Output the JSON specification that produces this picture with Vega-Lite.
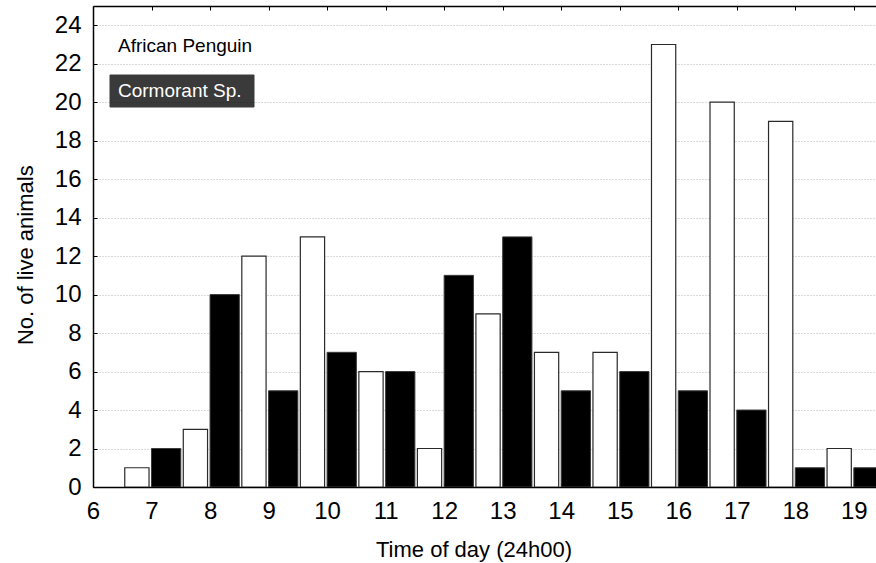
{
  "$schema": "https://vega.github.io/schema/vega-lite/v6.json",
  "autosize": "none",
  "width": 783,
  "height": 481,
  "padding": {"left": 93, "top": 6, "right": 0, "bottom": 76},
  "background": "white",
  "config": {
    "font": "Liberation Sans",
    "view": {"stroke": null},
    "axis": {
      "domainColor": "black",
      "domainWidth": 1.5,
      "tickColor": "black",
      "tickWidth": 1,
      "labelColor": "black",
      "titleColor": "black",
      "labelFont": "Liberation Sans",
      "titleFont": "Liberation Sans",
      "labelFontSize": 24,
      "titleFontSize": 22,
      "titleFontWeight": "normal"
    }
  },
  "data": {
    "values": [
      {"species": "African Penguin", "start": 6.5, "end": 7, "count": 1},
      {"species": "African Penguin", "start": 7.5, "end": 8, "count": 3},
      {"species": "African Penguin", "start": 8.5, "end": 9, "count": 12},
      {"species": "African Penguin", "start": 9.5, "end": 10, "count": 13},
      {"species": "African Penguin", "start": 10.5, "end": 11, "count": 6},
      {"species": "African Penguin", "start": 11.5, "end": 12, "count": 2},
      {"species": "African Penguin", "start": 12.5, "end": 13, "count": 9},
      {"species": "African Penguin", "start": 13.5, "end": 14, "count": 7},
      {"species": "African Penguin", "start": 14.5, "end": 15, "count": 7},
      {"species": "African Penguin", "start": 15.5, "end": 16, "count": 23},
      {"species": "African Penguin", "start": 16.5, "end": 17, "count": 20},
      {"species": "African Penguin", "start": 17.5, "end": 18, "count": 19},
      {"species": "African Penguin", "start": 18.5, "end": 19, "count": 2},
      {"species": "Cormorant Sp.", "start": 7, "end": 7.5, "count": 2},
      {"species": "Cormorant Sp.", "start": 8, "end": 8.5, "count": 10},
      {"species": "Cormorant Sp.", "start": 9, "end": 9.5, "count": 5},
      {"species": "Cormorant Sp.", "start": 10, "end": 10.5, "count": 7},
      {"species": "Cormorant Sp.", "start": 11, "end": 11.5, "count": 6},
      {"species": "Cormorant Sp.", "start": 12, "end": 12.5, "count": 11},
      {"species": "Cormorant Sp.", "start": 13, "end": 13.5, "count": 13},
      {"species": "Cormorant Sp.", "start": 14, "end": 14.5, "count": 5},
      {"species": "Cormorant Sp.", "start": 15, "end": 15.5, "count": 6},
      {"species": "Cormorant Sp.", "start": 16, "end": 16.5, "count": 5},
      {"species": "Cormorant Sp.", "start": 17, "end": 17.5, "count": 4},
      {"species": "Cormorant Sp.", "start": 18, "end": 18.5, "count": 1},
      {"species": "Cormorant Sp.", "start": 19, "end": 19.5, "count": 1}
    ]
  },
  "encoding": {
    "y": {
      "field": "count",
      "type": "quantitative",
      "scale": {"domain": [0, 25], "nice": false, "zero": true},
      "axis": {
        "values": [0, 2, 4, 6, 8, 10, 12, 14, 16, 18, 20, 22, 24],
        "title": "No. of live animals",
        "titleX": -60.3,
        "titleY": 248.7,
        "titleAngle": -90,
        "titleAlign": "center",
        "titleBaseline": "alphabetic",
        "tickSize": -4,
        "labelPadding": 16,
        "grid": true,
        "gridColor": "#b4b4b4",
        "gridDash": [1, 2],
        "gridWidth": 1
      }
    },
    "y2": {"datum": 0},
    "fill": {
      "field": "species",
      "type": "nominal",
      "scale": {"domain": ["African Penguin", "Cormorant Sp."], "range": ["white", "black"]},
      "legend": {
        "orient": "none",
        "legendX": 72.5,
        "legendY": 23.5,
        "title": null,
        "padding": 0,
        "symbolType": "M-4.5,-1H4.5V1H-4.5Z",
        "symbolSize": 1024,
        "symbolStrokeWidth": 1,
        "symbolOpacity": 0.77,
        "labelOffset": -80.5,
        "labelFont": "Liberation Sans",
        "labelFontSize": 19,
        "labelColor": "black",
        "labelLimit": 300,
        "rowPadding": 8,
        "encoding": {
          "symbols": {
            "fill": {"condition": {"test": "datum.value === 'Cormorant Sp.'", "value": "black"}, "value": "white"},
            "stroke": {"condition": {"test": "datum.value === 'Cormorant Sp.'", "value": "black"}, "value": "white"}
          },
          "labels": {
            "fill": {"condition": {"test": "datum.value === 'Cormorant Sp.'", "value": "white"}, "value": "black"}
          }
        }
      }
    }
  },
  "layer": [
    {
      "transform": [{"filter": "datum.species === 'African Penguin'"}],
      "mark": {"type": "bar", "clip": true, "xOffset": 2.5, "x2Offset": -2.5, "stroke": "#2a2a2a", "strokeWidth": 1.2},
      "encoding": {
        "x": {
          "field": "start",
          "type": "quantitative",
          "scale": {"domain": [6, 19.379], "nice": false, "zero": false},
          "axis": {
            "orient": "bottom",
            "values": [6, 7, 8, 9, 10, 11, 12, 13, 14, 15, 16, 17, 18, 19],
            "grid": false,
            "tickSize": -4,
            "labelBaseline": "alphabetic",
            "labelPadding": 35,
            "labelFlush": false,
            "title": "Time of day (24h00)",
            "titleX": 380.5,
            "titleY": 69.5,
            "titleAnchor": null,
            "titleAlign": "center",
            "titleBaseline": "alphabetic"
          }
        },
        "x2": {"field": "end"}
      }
    },
    {
      "transform": [{"filter": "datum.species === 'Cormorant Sp.'"}],
      "mark": {"type": "bar", "clip": true, "stroke": "#3a3a3a", "strokeWidth": 1},
      "encoding": {
        "x": {
          "field": "start",
          "type": "quantitative",
          "scale": {"domain": [6, 19.379], "nice": false, "zero": false},
          "axis": {
            "orient": "top",
            "values": [6, 7, 8, 9, 10, 11, 12, 13, 14, 15, 16, 17, 18, 19],
            "grid": false,
            "labels": false,
            "tickSize": -4,
            "title": null
          }
        },
        "x2": {"field": "end"}
      }
    }
  ],
  "resolve": {"scale": {"x": "independent"}, "axis": {"x": "independent"}}
}
